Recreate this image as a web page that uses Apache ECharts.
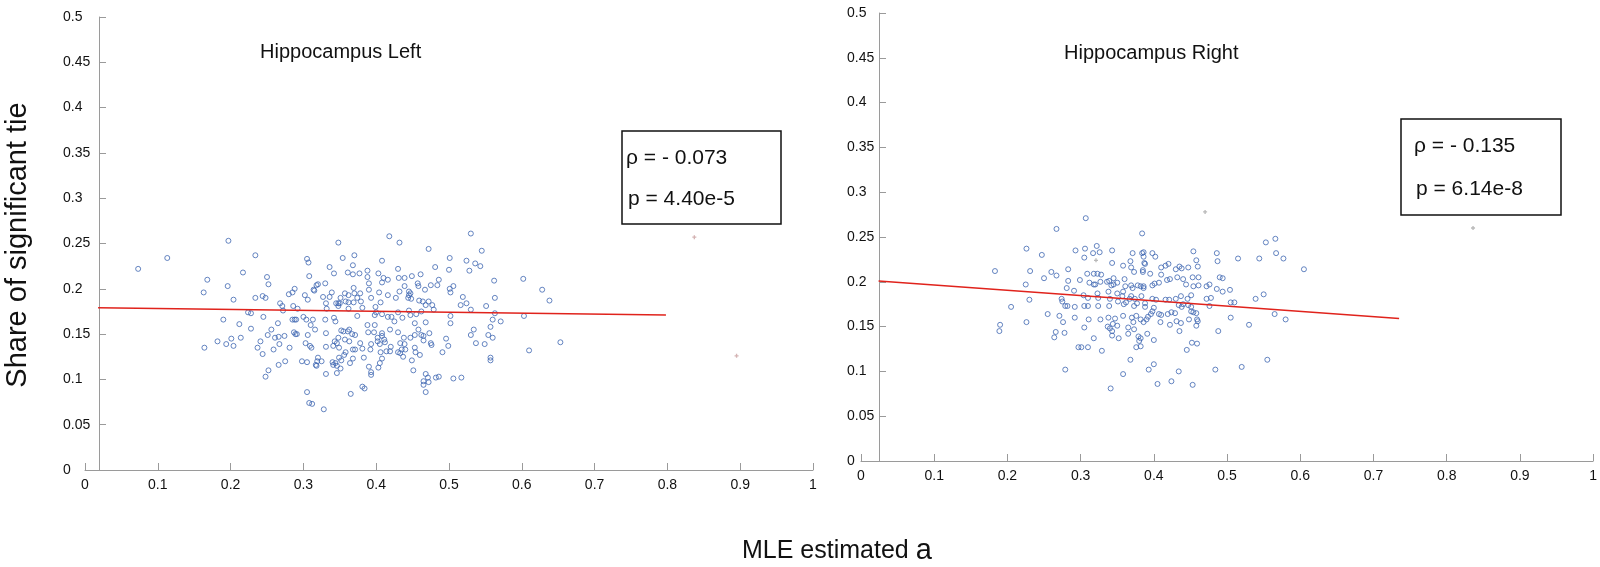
<!DOCTYPE html>
<html>
<head>
<meta charset="utf-8">
<script src="https://cdn.jsdelivr.net/npm/echarts@6/dist/echarts.min.js"></script>
<style>html,body{margin:0;padding:0;background:#fff}#c{width:1600px;height:567px}</style>
</head>
<body>
<div id="c"></div>
<script>
// ---- data ----
const xTicks = [0, 0.1, 0.2, 0.3, 0.4, 0.5, 0.6, 0.7, 0.8, 0.9, 1];
const yTicks = [0, 0.05, 0.1, 0.15, 0.2, 0.25, 0.3, 0.35, 0.4, 0.45, 0.5];
const panelTitles = ['Hippocampus Left', 'Hippocampus Right'];
const rhoTexts = ['ρ = - 0.073', 'ρ = - 0.135'];
const pTexts = ['p = 4.40e-5', 'p = 6.14e-8'];
const yAxisTitle = 'Share of significant tie';
const xAxisTitle = 'MLE estimated ';
const xAxisSymbol = 'a';

const leftPoints = [
[0.073,0.222],[0.113,0.234],[0.197,0.253],[0.234,0.237],[0.217,0.218],[0.168,0.210],[0.163,0.196],[0.196,0.203],[0.204,0.188],[0.164,0.135],
[0.182,0.142],[0.190,0.166],[0.194,0.139],[0.201,0.145],[0.204,0.137],[0.212,0.161],[0.214,0.146],[0.224,0.174],[0.228,0.173],[0.228,0.156],
[0.234,0.190],[0.244,0.192],[0.248,0.190],[0.250,0.213],[0.252,0.205],[0.245,0.169],[0.237,0.135],[0.241,0.142],[0.244,0.128],[0.248,0.103],
[0.252,0.110],[0.251,0.149],[0.256,0.155],[0.259,0.133],[0.261,0.146],[0.267,0.139],[0.266,0.147],[0.265,0.162],[0.266,0.116],[0.268,0.184],
[0.271,0.181],[0.272,0.176],[0.274,0.148],[0.275,0.120],[0.280,0.194],[0.281,0.135],[0.285,0.196],[0.288,0.200],[0.285,0.166],[0.288,0.166],
[0.290,0.166],[0.287,0.152],[0.289,0.150],[0.291,0.150],[0.286,0.181],[0.292,0.178],[0.298,0.120],[0.305,0.119],[0.300,0.169],[0.302,0.193],
[0.305,0.233],[0.307,0.229],[0.308,0.214],[0.306,0.188],[0.303,0.140],[0.309,0.137],[0.311,0.135],[0.305,0.086],[0.308,0.074],[0.312,0.073],
[0.328,0.067],[0.306,0.149],[0.304,0.166],[0.310,0.160],[0.313,0.166],[0.316,0.155],[0.314,0.199],[0.315,0.198],[0.318,0.204],[0.320,0.205],
[0.327,0.191],[0.331,0.184],[0.330,0.206],[0.336,0.224],[0.342,0.217],[0.339,0.196],[0.336,0.191],[0.332,0.178],[0.330,0.166],[0.331,0.151],
[0.320,0.124],[0.317,0.116],[0.319,0.120],[0.318,0.115],[0.325,0.120],[0.331,0.136],[0.331,0.106],[0.340,0.119],[0.341,0.116],[0.344,0.118],
[0.346,0.115],[0.346,0.107],[0.341,0.137],[0.343,0.142],[0.342,0.168],[0.345,0.184],[0.344,0.164],[0.348,0.251],[0.348,0.184],
[0.418,0.258],[0.432,0.251],[0.472,0.244],[0.530,0.261],[0.545,0.242],[0.354,0.234],[0.370,0.237],[0.408,0.231],[0.368,0.226],[0.361,0.218],
[0.368,0.216],[0.377,0.217],[0.388,0.220],[0.388,0.213],[0.403,0.217],[0.408,0.207],[0.410,0.212],[0.416,0.210],[0.430,0.222],[0.439,0.212],
[0.431,0.212],[0.449,0.214],[0.461,0.216],[0.481,0.224],[0.501,0.234],[0.500,0.221],[0.524,0.231],[0.528,0.220],[0.536,0.228],[0.543,0.225],
[0.562,0.209],[0.602,0.211],[0.628,0.199],[0.638,0.187],[0.653,0.141],[0.610,0.132],[0.603,0.170],[0.571,0.164],[0.563,0.173],[0.560,0.166],
[0.563,0.190],[0.557,0.158],[0.551,0.181],[0.534,0.155],[0.530,0.149],[0.537,0.140],[0.549,0.139],[0.554,0.149],[0.560,0.146],[0.557,0.124],
[0.557,0.121],[0.530,0.177],[0.524,0.184],[0.516,0.182],[0.519,0.191],[0.506,0.203],[0.501,0.200],[0.502,0.196],[0.486,0.210],[0.484,0.204],
[0.475,0.204],[0.467,0.199],[0.457,0.206],[0.458,0.203],[0.445,0.197],[0.447,0.195],[0.445,0.193],[0.444,0.190],[0.448,0.189],[0.432,0.197],
[0.439,0.203],[0.427,0.190],[0.416,0.193],[0.404,0.196],[0.390,0.199],[0.390,0.206],[0.393,0.190],[0.378,0.195],[0.369,0.201],[0.370,0.195],
[0.362,0.193],[0.357,0.195],[0.374,0.190],[0.379,0.186],[0.369,0.185],[0.362,0.185],[0.358,0.186],[0.350,0.184],[0.351,0.190],[0.406,0.185],
[0.399,0.180],[0.400,0.174],[0.398,0.171],[0.348,0.181],[0.362,0.178],[0.381,0.179],[0.408,0.172],[0.416,0.169],[0.421,0.169],[0.430,0.174],
[0.445,0.176],[0.447,0.171],[0.455,0.172],[0.462,0.175],[0.468,0.182],[0.464,0.186],[0.472,0.186],[0.477,0.182],[0.479,0.177],[0.459,0.187],
[0.502,0.170],[0.502,0.162],[0.468,0.163],[0.453,0.162],[0.436,0.168],[0.425,0.164],[0.419,0.155],[0.408,0.151],[0.408,0.148],[0.411,0.144],
[0.412,0.141],[0.405,0.139],[0.402,0.142],[0.402,0.146],[0.397,0.152],[0.398,0.160],[0.388,0.160],[0.389,0.152],[0.374,0.170],[0.371,0.149],
[0.367,0.150],[0.363,0.155],[0.361,0.153],[0.355,0.153],[0.352,0.154],[0.348,0.146],[0.346,0.140],[0.349,0.135],[0.357,0.144],[0.363,0.142],
[0.378,0.140],[0.393,0.139],[0.392,0.133],[0.381,0.134],[0.371,0.133],[0.368,0.133],[0.358,0.130],[0.356,0.127],[0.368,0.123],[0.364,0.118],
[0.352,0.121],[0.349,0.124],[0.351,0.112],[0.383,0.124],[0.390,0.114],[0.393,0.108],[0.393,0.105],[0.403,0.113],[0.405,0.118],[0.408,0.123],
[0.406,0.130],[0.414,0.131],[0.419,0.131],[0.420,0.136],[0.430,0.130],[0.433,0.129],[0.435,0.133],[0.437,0.125],[0.440,0.133],[0.439,0.139],
[0.433,0.140],[0.430,0.152],[0.438,0.146],[0.447,0.146],[0.453,0.149],[0.458,0.155],[0.462,0.149],[0.465,0.148],[0.473,0.151],[0.465,0.143],
[0.475,0.140],[0.476,0.138],[0.453,0.135],[0.454,0.130],[0.460,0.127],[0.449,0.121],[0.451,0.110],[0.468,0.106],[0.471,0.102],[0.472,0.097],
[0.465,0.098],[0.465,0.094],[0.468,0.086],[0.482,0.102],[0.486,0.103],[0.491,0.130],[0.499,0.137],[0.496,0.145],[0.506,0.101],[0.517,0.102],
[0.381,0.092],[0.384,0.090],[0.365,0.084]
];
const rightPoints = [
[0.307,0.271],[0.267,0.259],[0.384,0.254],[0.226,0.237],[0.247,0.230],[0.293,0.235],[0.306,0.237],[0.322,0.240],[0.317,0.232],[0.326,0.233],
[0.305,0.227],[0.343,0.235],[0.371,0.232],[0.384,0.232],[0.386,0.228],[0.368,0.223],[0.343,0.221],[0.358,0.218],[0.369,0.216],[0.373,0.211],
[0.385,0.211],[0.388,0.220],[0.183,0.212],[0.231,0.212],[0.260,0.211],[0.267,0.207],[0.250,0.204],[0.283,0.214],[0.283,0.201],[0.299,0.202],
[0.309,0.209],[0.318,0.209],[0.323,0.209],[0.328,0.208],[0.312,0.199],[0.318,0.197],[0.320,0.197],[0.327,0.200],[0.336,0.200],[0.339,0.201],
[0.345,0.204],[0.342,0.196],[0.345,0.197],[0.350,0.199],[0.360,0.203],[0.361,0.195],[0.369,0.196],[0.371,0.193],[0.378,0.196],[0.382,0.195],
[0.386,0.193],[0.225,0.197],[0.281,0.193],[0.291,0.190],[0.304,0.185],[0.310,0.182],[0.323,0.187],[0.338,0.189],[0.340,0.181],[0.350,0.187],
[0.358,0.189],[0.369,0.184],[0.367,0.181],[0.357,0.184],[0.374,0.181],[0.383,0.184],[0.388,0.176],[0.377,0.176],[0.373,0.173],[0.362,0.177],
[0.359,0.175],[0.351,0.178],[0.339,0.173],[0.324,0.182],[0.324,0.173],[0.310,0.173],[0.305,0.173],[0.292,0.172],[0.282,0.173],[0.279,0.173],
[0.274,0.181],[0.275,0.178],[0.230,0.180],[0.205,0.172],[0.255,0.164],[0.271,0.162],[0.292,0.160],[0.311,0.158],[0.327,0.158],[0.338,0.160],
[0.347,0.159],[0.358,0.162],[0.370,0.160],[0.376,0.162],[0.382,0.158],[0.386,0.155],[0.372,0.155],[0.365,0.149],[0.350,0.151],[0.344,0.153],
[0.340,0.148],[0.337,0.150],[0.343,0.145],[0.343,0.140],[0.352,0.137],[0.365,0.142],[0.373,0.147],[0.379,0.139],[0.380,0.134],[0.376,0.127],
[0.391,0.142],[0.305,0.149],[0.318,0.137],[0.297,0.127],[0.301,0.127],[0.310,0.127],[0.329,0.123],[0.276,0.155],[0.226,0.155],[0.190,0.152],
[0.189,0.145],[0.266,0.144],[0.278,0.143],[0.264,0.138],[0.368,0.113],[0.358,0.097],[0.279,0.102],[0.341,0.081],
[0.553,0.244],[0.566,0.248],[0.567,0.232],[0.577,0.226],[0.605,0.214],[0.544,0.226],[0.515,0.226],[0.486,0.232],[0.487,0.223],[0.454,0.234],
[0.458,0.224],[0.460,0.217],[0.447,0.216],[0.438,0.215],[0.435,0.217],[0.430,0.214],[0.420,0.220],[0.416,0.218],[0.410,0.216],[0.398,0.232],
[0.386,0.233],[0.402,0.228],[0.387,0.221],[0.385,0.213],[0.395,0.209],[0.410,0.208],[0.418,0.202],[0.422,0.203],[0.432,0.205],[0.440,0.203],
[0.453,0.205],[0.461,0.205],[0.490,0.205],[0.494,0.204],[0.444,0.197],[0.454,0.195],[0.461,0.196],[0.472,0.195],[0.476,0.197],[0.486,0.192],
[0.494,0.189],[0.504,0.191],[0.539,0.181],[0.550,0.186],[0.505,0.177],[0.510,0.177],[0.476,0.173],[0.478,0.182],[0.472,0.181],[0.451,0.185],
[0.446,0.181],[0.437,0.184],[0.430,0.181],[0.421,0.180],[0.416,0.180],[0.403,0.180],[0.398,0.181],[0.386,0.195],[0.398,0.196],[0.401,0.198],
[0.407,0.199],[0.388,0.172],[0.400,0.171],[0.398,0.167],[0.396,0.164],[0.392,0.161],[0.390,0.158],[0.407,0.164],[0.410,0.163],[0.419,0.164],
[0.424,0.166],[0.429,0.165],[0.434,0.174],[0.438,0.172],[0.440,0.175],[0.447,0.174],[0.451,0.172],[0.451,0.167],[0.454,0.166],[0.458,0.165],
[0.459,0.158],[0.460,0.156],[0.458,0.151],[0.448,0.158],[0.437,0.154],[0.431,0.156],[0.422,0.152],[0.409,0.155],[0.435,0.145],[0.400,0.135],
[0.382,0.137],[0.382,0.128],[0.452,0.132],[0.459,0.131],[0.445,0.124],[0.488,0.145],[0.505,0.160],[0.530,0.152],[0.565,0.164],[0.580,0.158],
[0.555,0.113],[0.520,0.105],[0.484,0.102],[0.434,0.100],[0.400,0.108],[0.393,0.102],[0.405,0.086],[0.424,0.089],[0.453,0.085]
];
const leftStray = [[0.837,0.257],[0.895,0.126]];
const rightStray = [[0.836,0.260],[0.470,0.278],[0.321,0.224]];
const leftFit = [[0.018,0.179],[0.798,0.171]];
const rightFit = [[0.024,0.201],[0.735,0.159]];

// ---- chart ----
const FONT = 'Liberation Sans, Arial, sans-serif';
const chart = echarts.init(document.getElementById('c'), null, {renderer: 'canvas'});

function xAxisCfg(i) {
  return {
    gridIndex: i, type: 'value', min: xTicks[0], max: xTicks[xTicks.length - 1], interval: xTicks[1] - xTicks[0],
    axisLine: {show: true, onZero: false, lineStyle: {color: '#9a9a9a', width: 1}},
    axisTick: {show: true, inside: true, length: 7, lineStyle: {color: '#9a9a9a'}},
    axisLabel: {color: '#111', fontSize: 14, fontFamily: FONT, margin: 8},
    splitLine: {show: false}
  };
}
function yAxisCfg(i, off, margin) {
  return {
    gridIndex: i, type: 'value', min: yTicks[0], max: yTicks[yTicks.length - 1], interval: yTicks[1] - yTicks[0],
    offset: off,
    axisLine: {show: true, onZero: false, lineStyle: {color: '#9a9a9a', width: 1}},
    axisTick: {show: true, inside: true, length: 7, lineStyle: {color: '#9a9a9a'}},
    axisLabel: {color: '#111', fontSize: 14, fontFamily: FONT, margin: margin, align: 'left'},
    splitLine: {show: false}
  };
}
const scatterStyle = {color: 'transparent', borderColor: '#3f67b1', borderWidth: 1};
const plusPath = 'path://M1,0h1v1h1v1h-1v1h-1v-1h-1v-1h1z';

chart.setOption({
  animation: false,
  backgroundColor: '#fff',
  grid: [
    {left: 85, width: 728, top: 17, height: 453},
    {left: 861, width: 735, top: 13, height: 448}
  ],
  xAxis: [xAxisCfg(0), xAxisCfg(1)],
  yAxis: [yAxisCfg(0, -14, 36), yAxisCfg(1, -18, 32)],
  series: [
    {type: 'scatter', xAxisIndex: 0, yAxisIndex: 0, data: leftPoints, symbol: 'circle', symbolSize: 5, itemStyle: scatterStyle},
    {type: 'scatter', xAxisIndex: 1, yAxisIndex: 1, data: rightPoints, symbol: 'circle', symbolSize: 5, itemStyle: scatterStyle},
    {type: 'scatter', xAxisIndex: 0, yAxisIndex: 0, data: leftStray, symbol: plusPath, symbolSize: 4, itemStyle: {color: '#c9a0a0'}},
    {type: 'scatter', xAxisIndex: 1, yAxisIndex: 1, data: rightStray, symbol: plusPath, symbolSize: 4, itemStyle: {color: '#a8a8a8'}},
    {type: 'line', xAxisIndex: 0, yAxisIndex: 0, data: leftFit, showSymbol: false, lineStyle: {color: '#e0231c', width: 1.5}, z: 5},
    {type: 'line', xAxisIndex: 1, yAxisIndex: 1, data: rightFit, showSymbol: false, lineStyle: {color: '#e0231c', width: 1.5}, z: 5}
  ],
  graphic: [
    {type: 'text', left: 260, top: 42, style: {text: panelTitles[0], fontSize: 20, fontFamily: FONT, fill: '#111'}},
    {type: 'text', left: 1064, top: 43, style: {text: panelTitles[1], fontSize: 20, fontFamily: FONT, fill: '#111'}},
    {type: 'rect', shape: {x: 622, y: 131, width: 159, height: 93}, style: {fill: '#fff', stroke: '#111', lineWidth: 1.5}, z: 10},
    {type: 'text', x: 626, y: 158, style: {text: rhoTexts[0], fontSize: 21, fontFamily: FONT, fill: '#111', verticalAlign: 'middle'}, z: 11},
    {type: 'text', x: 628, y: 199, style: {text: pTexts[0], fontSize: 21, fontFamily: FONT, fill: '#111', verticalAlign: 'middle'}, z: 11},
    {type: 'rect', shape: {x: 1401, y: 119, width: 160, height: 96}, style: {fill: '#fff', stroke: '#111', lineWidth: 1.5}, z: 10},
    {type: 'text', x: 1414, y: 146, style: {text: rhoTexts[1], fontSize: 21, fontFamily: FONT, fill: '#111', verticalAlign: 'middle'}, z: 11},
    {type: 'text', x: 1416, y: 189, style: {text: pTexts[1], fontSize: 21, fontFamily: FONT, fill: '#111', verticalAlign: 'middle'}, z: 11},
    {type: 'text', x: 18, y: 245, rotation: Math.PI / 2,
      style: {text: yAxisTitle, fontSize: 29, fontFamily: FONT, fill: '#111', align: 'center', verticalAlign: 'middle'}},
    {type: 'text', x: 742, y: 551,
      style: {text: '{a|' + xAxisTitle + '}{b|' + xAxisSymbol + '}', fontFamily: FONT, fill: '#111', verticalAlign: 'middle',
        rich: {a: {fontSize: 25, fontFamily: FONT, fill: '#111'}, b: {fontSize: 29, fontFamily: FONT, fill: '#111'}}}}
  ]
});
</script>
</body>
</html>
